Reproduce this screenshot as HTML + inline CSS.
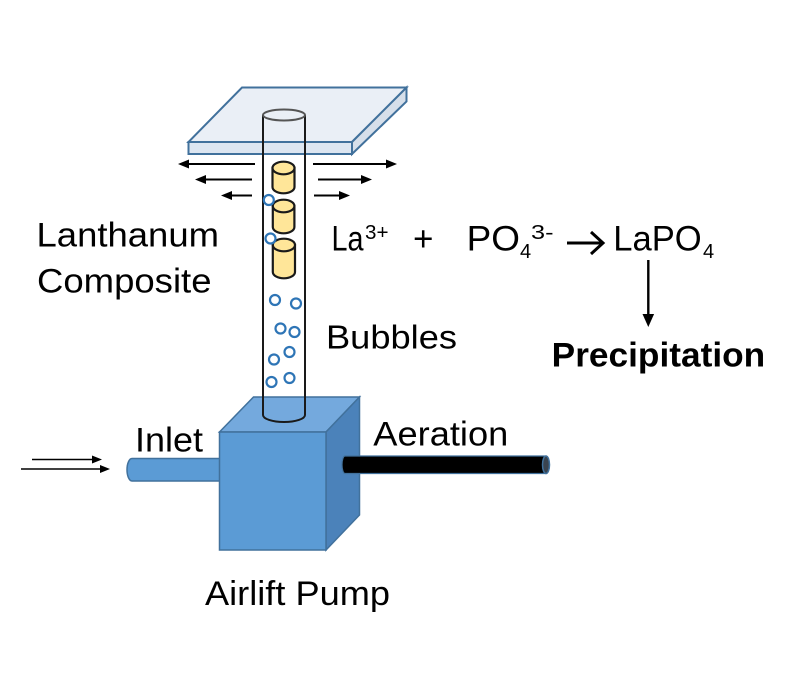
<!DOCTYPE html>
<html><head><meta charset="utf-8"><style>
html,body{margin:0;padding:0;background:#fff;}
svg{display:block;}
text{font-family:"Liberation Sans",Arial,sans-serif;fill:#000;}
</style></head><body>
<svg width="800" height="695" viewBox="0 0 800 695" xmlns="http://www.w3.org/2000/svg">
<!-- Plate -->
<polygon points="242,87.5 406.5,87.5 352,142 188.5,142" fill="#eaeff6" stroke="#41719c" stroke-width="2"/>
<polygon points="188.5,142 352,142 352,154 188.5,154" fill="#dde6f1" stroke="#41719c" stroke-width="2"/>
<polygon points="352,142 406.5,87.5 406.5,101.5 352,154" fill="#d6dfea" stroke="#41719c" stroke-width="2"/>

<!-- Arrows from plate -->
<g stroke="#000" stroke-width="2" fill="#000">
<line x1="255" y1="164" x2="186" y2="164"/><polygon points="178,164 189,159.5 189,168.5" stroke="none"/>
<line x1="252" y1="179.5" x2="203" y2="179.5"/><polygon points="195,179.5 206,175 206,184" stroke="none"/>
<line x1="252" y1="195.5" x2="229" y2="195.5"/><polygon points="221,195.5 232,191 232,200" stroke="none"/>
<line x1="313" y1="164" x2="389" y2="164"/><polygon points="397,164 386,159.5 386,168.5" stroke="none"/>
<line x1="318" y1="179.5" x2="364" y2="179.5"/><polygon points="372,179.5 361,175 361,184" stroke="none"/>
<line x1="314" y1="195.5" x2="342" y2="195.5"/><polygon points="350,195.5 339,191 339,200" stroke="none"/>
</g>

<!-- Inlet pipe -->
<path d="M132,458.5 L222,458.5 L222,481 L132,481 A5,11.25 0 0 1 132,458.5 Z" fill="#5b9bd5" stroke="#41719c" stroke-width="1.5"/>

<!-- Inlet arrows -->
<g stroke="#000" stroke-width="1.5" fill="#000">
<line x1="32" y1="459.5" x2="95" y2="459.5"/><polygon points="102,459.5 92,455.5 92,463.5" stroke="none"/>
<line x1="21" y1="469" x2="103" y2="469"/><polygon points="110,469 100,465 100,473" stroke="none"/>
</g>

<!-- Box -->
<polygon points="253.5,397 359.5,397 326,432 219.5,432" fill="#74a9dd" stroke="#41719c" stroke-width="1.5"/>
<polygon points="326,432 359.5,397 359.5,515 326,550" fill="#4b82ba" stroke="#41719c" stroke-width="1.5"/>
<rect x="219.5" y="432" width="106.5" height="118" fill="#5b9bd5" stroke="#41719c" stroke-width="1.5"/>

<!-- Aeration pipe -->
<path d="M345,456 L546,456 L546,473.5 L345,473.5 A3,8.75 0 0 1 345,456 Z" fill="#000" stroke="#41719c" stroke-width="1.2"/>
<ellipse cx="546" cy="464.75" rx="3.5" ry="8.75" fill="#3a4450" stroke="#41719c" stroke-width="1.5"/>

<!-- Tube -->
<path d="M263,115 L263,415 A21,7 0 0 0 305,415 L305,115" fill="none" stroke="#1a1a1a" stroke-width="2"/>
<ellipse cx="284" cy="115" rx="21" ry="5.5" fill="none" stroke="#555" stroke-width="2"/>

<!-- Cylinders -->
<g stroke="#1a1a1a" stroke-width="2.2" fill="#ffe699">
<path d="M272.5,168 L272.5,187 A11,6.3 0 0 0 294.5,187 L294.5,168 Z"/>
<ellipse cx="283.5" cy="168" rx="11" ry="6.3"/>
<path d="M272.8,206 L272.8,227 A10.8,6.3 0 0 0 294.4,227 L294.4,206 Z"/>
<ellipse cx="283.6" cy="206" rx="10.8" ry="6.3"/>
<path d="M272.8,245 L272.8,272 A11.1,6.3 0 0 0 295,272 L295,245 Z"/>
<ellipse cx="283.9" cy="245" rx="11.1" ry="6.3"/>
</g>

<!-- Bubbles -->
<g fill="#fff" stroke="#2e75b6" stroke-width="2.2">
<circle cx="268.8" cy="200" r="5"/>
<circle cx="270.5" cy="238.5" r="5"/>
<circle cx="275" cy="300" r="5"/>
<circle cx="296" cy="303.5" r="5"/>
<circle cx="280.5" cy="328.5" r="5"/>
<circle cx="294.5" cy="332" r="5"/>
<circle cx="289.5" cy="352" r="5"/>
<circle cx="274" cy="359.5" r="5"/>
<circle cx="289.5" cy="378" r="5"/>
<circle cx="271.5" cy="382" r="5"/>
</g>

<!-- Labels -->
<text x="36.5" y="246.7" font-size="34.5" textLength="182.5" lengthAdjust="spacingAndGlyphs">Lanthanum</text>
<text x="37" y="292.3" font-size="34.5" textLength="174.5" lengthAdjust="spacingAndGlyphs">Composite</text>
<text x="326" y="348.3" font-size="33.5" textLength="131" lengthAdjust="spacingAndGlyphs">Bubbles</text>
<text x="135" y="451.7" font-size="34" textLength="68" lengthAdjust="spacingAndGlyphs">Inlet</text>
<text x="373.3" y="445.7" font-size="34" textLength="135" lengthAdjust="spacingAndGlyphs">Aeration</text>
<text x="205" y="605" font-size="34" textLength="185" lengthAdjust="spacingAndGlyphs">Airlift Pump</text>
<text x="551.7" y="366.7" font-size="34.5" font-weight="bold" textLength="213.5" lengthAdjust="spacingAndGlyphs">Precipitation</text>

<!-- Equation -->
<text x="331.5" y="250.7" font-size="35" textLength="32" lengthAdjust="spacingAndGlyphs">La</text>
<text x="365" y="239" font-size="20" textLength="23.5" lengthAdjust="spacingAndGlyphs">3+</text>
<text x="413" y="250.7" font-size="35">+</text>
<text x="466.7" y="250.7" font-size="35" textLength="53.3" lengthAdjust="spacingAndGlyphs">PO</text>
<text x="520" y="258" font-size="20">4</text>
<text x="531" y="239" font-size="20" textLength="22.5" lengthAdjust="spacingAndGlyphs">3-</text>
<g stroke="#000" stroke-width="3" fill="none" stroke-linecap="butt">
<line x1="567" y1="243" x2="602" y2="243"/>
<polyline points="591,232 603,243 591,254"/>
</g>
<text x="613.3" y="250.7" font-size="35" textLength="88.4" lengthAdjust="spacingAndGlyphs">LaPO</text>
<text x="703" y="258" font-size="20">4</text>

<!-- Down arrow -->
<line x1="648.3" y1="260" x2="648.3" y2="316" stroke="#000" stroke-width="2.4"/>
<polygon points="648.3,327 642.5,314 654.1,314" fill="#000"/>
</svg>
</body></html>
